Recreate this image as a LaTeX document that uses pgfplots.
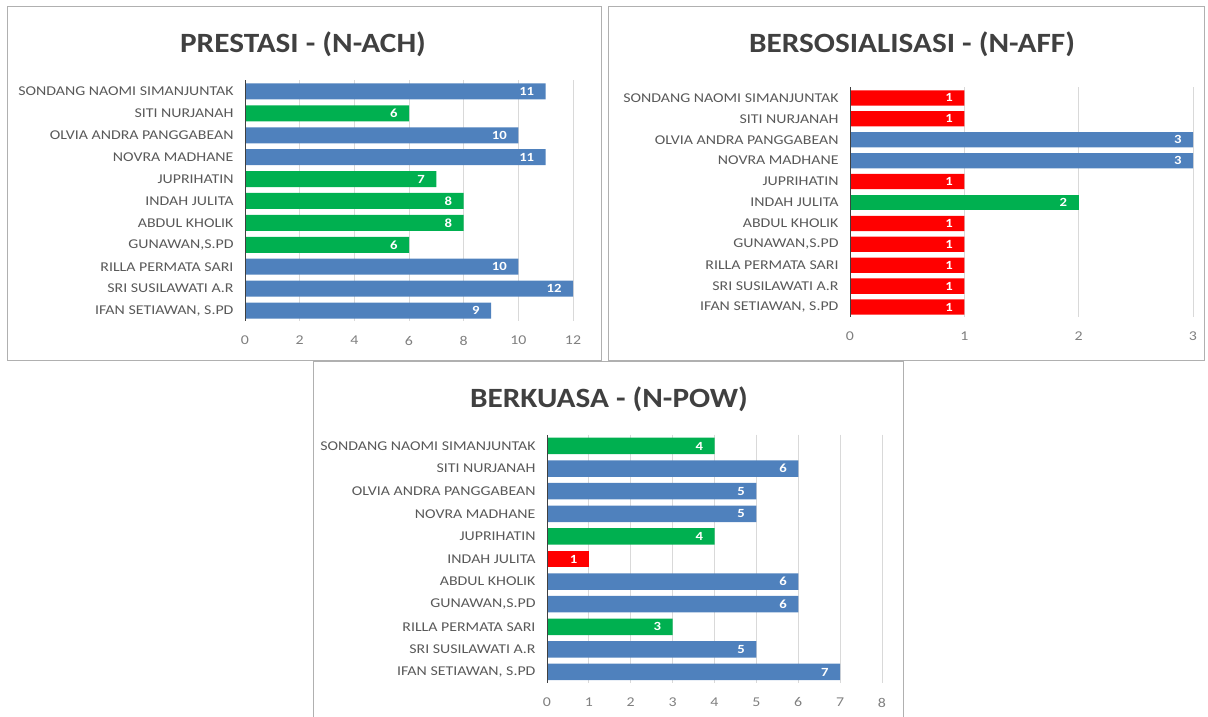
\documentclass[border=0pt]{standalone}
\usepackage{fontspec}
\setmainfont{Carlito}
\newfontfamily\labfont{Carlito}[FakeStretch=1.18]
\newfontfamily\titfont{Carlito}[FakeStretch=1.12]
\usepackage{pgfplots}
\pgfplotsset{compat=1.18}
\definecolor{xblue}{HTML}{4F81BD}
\definecolor{xgreen}{HTML}{00B050}
\definecolor{xred}{HTML}{FF0000}
\definecolor{labgray}{HTML}{595959}
\definecolor{numgray}{HTML}{7F7F7F}
\definecolor{titlegray}{HTML}{404040}
\definecolor{framegray}{HTML}{B0B0B0}
\pgfplotsset{
  panel/.style={
    scale only axis, xbar, bar shift=0pt, bar width=0.73,
    y dir=reverse, ymin=-0.5, ymax=10.5, ytick={0,...,10},
    yticklabels={SONDANG NAOMI SIMANJUNTAK, SITI NURJANAH, OLVIA ANDRA PANGGABEAN, NOVRA MADHANE, JUPRIHATIN, INDAH JULITA, ABDUL KHOLIK, {GUNAWAN,S.PD}, RILLA PERMATA SARI, SRI SUSILAWATI A.R, {IFAN SETIAWAN, S.PD}},
    xmin=0, enlarge x limits=false,
    axis line style={draw=none},
    major tick length=0pt,
    xmajorgrids, major grid style={black!15, line width=0.8pt},
    xticklabel style={font=\labfont\fontsize{13.5}{13.5}\selectfont, text=numgray, yshift=-11bp},
    yticklabel style={font=\labfont\fontsize{13.5}{14}\selectfont, text=labgray, xshift=-8bp},
    /pgf/number format/assume math mode=true,
    nodes near coords,
    every node near coord/.append style={anchor=east, xshift=-8bp, text=white, font=\labfont\fontsize{12.5}{12.5}\selectfont\bfseries},
  },
}
\begin{document}
\begin{tikzpicture}[x=1bp,y=1bp]
\useasboundingbox (0,0) rectangle (1208,717);
% panel frames
\draw[framegray, line width=1pt] (7,710) rectangle (601,356);
\draw[framegray, line width=1pt] (608,710) rectangle (1204,356);
\draw[framegray, line width=1pt] (313,355) rectangle (903,-3);
% titles
\node[text=titlegray, font=\titfont\fontsize{28}{30}\selectfont\bfseries] at (303,673) {PRESTASI - (N-ACH)};
\node[text=titlegray, font=\titfont\fontsize{28}{30}\selectfont\bfseries] at (912,673) {BERSOSIALISASI - (N-AFF)};
\node[text=titlegray, font=\titfont\fontsize{28}{30}\selectfont\bfseries] at (609,318) {BERKUASA - (N-POW)};

% Panel 1
\begin{axis}[panel, at={(245bp,395.5bp)}, anchor=south west, width=328bp, height=241bp,
  xmax=12, xtick={0,2,...,12}]
\addplot[fill=xblue, draw=none] table {
x y
11 0
10 2
11 3
10 8
12 9
9 10
};
\addplot[fill=xgreen, draw=none] table {
x y
6 1
7 4
8 5
8 6
6 7
};
\draw[black!75, line width=1.3pt] (rel axis cs:0,0) -- (rel axis cs:0,1);
\end{axis}

% Panel 2
\begin{axis}[panel, at={(850bp,399.5bp)}, anchor=south west, width=343bp, height=230bp,
  xmax=3, xtick={0,1,2,3}]
\addplot[fill=xblue, draw=none] table {
x y
3 2
3 3
};
\addplot[fill=xgreen, draw=none] table {
x y
2 5
};
\addplot[fill=xred, draw=none] table {
x y
1 0
1 1
1 4
1 6
1 7
1 8
1 9
1 10
};
\draw[black!75, line width=1.3pt] (rel axis cs:0,0) -- (rel axis cs:0,1);
\end{axis}

% Panel 3
\begin{axis}[panel, at={(547bp,33.7bp)}, anchor=south west, width=335bp, height=248.6bp,
  xmax=8, xtick={0,1,...,8}]
\addplot[fill=xblue, draw=none] table {
x y
6 1
5 2
5 3
6 6
6 7
5 9
7 10
};
\addplot[fill=xgreen, draw=none] table {
x y
4 0
4 4
3 8
};
\addplot[fill=xred, draw=none] table {
x y
1 5
};
\draw[black!75, line width=1.3pt] (rel axis cs:0,0) -- (rel axis cs:0,1);
\end{axis}
\end{tikzpicture}
\end{document}
